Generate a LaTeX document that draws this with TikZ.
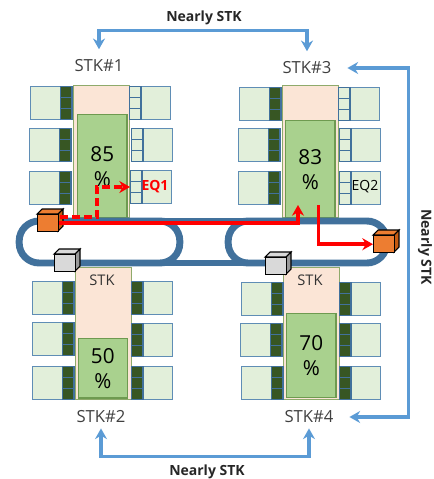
\documentclass[tikz,border=0pt]{standalone}
\usepackage{fontspec}
\setmainfont{Open Sans}
\usepackage{xcolor}
\usetikzlibrary{arrows.meta,positioning}
\definecolor{cellgreen}{HTML}{375623}
\definecolor{modfill}{HTML}{E2EFDA}
\definecolor{modline}{HTML}{5F8DB5}
\definecolor{stkpink}{HTML}{FBE5D6}
\definecolor{stkline}{HTML}{8FAA6B}
\definecolor{usedgreen}{HTML}{A9D18E}
\definecolor{usedline}{HTML}{6E9A50}
\definecolor{ringblue}{HTML}{41719C}
\definecolor{flowblue}{HTML}{5B9BD5}
\definecolor{cubeorange}{HTML}{ED7D31}
\definecolor{cubeside}{HTML}{C55A11}
% one memory module: name, left edge, top edge, cell offset, cell colour
\newcommand{\memmod}[5]{%
  \node[modbox] (#1) at (#2,#3) {};
  \foreach \k in {0,1,2}
    \node[modcell,fill=#5] (#1c\k) at (#2+#4,#3+\k*11) {};
}
% one cube: name, x, y of the front face, face colour, side colour
\newcommand{\boxcube}[5]{%
  \fill[draw=black,line width=.8pt,fill=#4] (#2,#3) -- ++(5,-5) -- ++(21,0) -- ++(-5,5) -- cycle;
  \fill[draw=black,line width=.8pt,fill=#5] (#2+21,#3) -- ++(5,-5) -- ++(0,17) -- ++(-5,5) -- cycle;
  \node[cubeface,fill=#4] (#1) at (#2,#3) {};
}
\begin{document}
\begin{tikzpicture}[x=.75pt,y=-.75pt,
  font=\fontsize{12.5}{15}\selectfont,
  modbox/.style={draw=modline,fill=modfill,line width=.9pt,anchor=north west,inner sep=0pt,minimum width=30.5pt,minimum height=24.5pt},
  modcell/.style={draw=ringblue,line width=1pt,anchor=north west,inner sep=0pt,minimum width=8.5pt,minimum height=8.25pt},
  stkbox/.style={draw=stkline,fill=stkpink,line width=.8pt,anchor=north west,inner sep=0pt,minimum width=42pt,minimum height=99pt},
  usedbox/.style={draw=usedline,fill=usedgreen,line width=.9pt,anchor=north west,inner sep=0pt,minimum width=37pt,align=center,
    font=\fontsize{15.5}{18.75}\selectfont},
  ringbox/.style={draw=ringblue,line width=5.2pt,rounded corners=15pt,minimum height=31.5pt,inner sep=0pt,outer sep=0pt},
  cubeface/.style={draw=black,line width=.8pt,anchor=north west,inner sep=0pt,minimum width=15.75pt,minimum height=13pt},
  stklbl/.style={text=black!75,inner sep=0pt,outer sep=4pt},
  flow/.style={draw=flowblue,line width=2.3pt,>={Stealth[length=8pt,width=9pt]}},
  redflow/.style={draw=red,line width=2.8pt,>={Stealth[length=8pt,width=9pt]}},
  nearly/.style={font=\fontsize{10.5}{12}\selectfont\bfseries,text=black!85,inner sep=0pt}]
  \useasboundingbox (0,0) rectangle (433,479);

  % stacks
  \node[stkbox] (stk1) at (73,85) {};
  \node[stkbox] (stk3) at (282,85) {};
  \node[stkbox] (stk2) at (75,267) {};
  \node[stkbox] (stk4) at (283,267) {};
  \node[usedbox,minimum height=77.5pt] (use1) at (77,114) {85\\\%};
  \node[usedbox,minimum height=73pt] (use3) at (285,120) {83\\\%};
  \node[usedbox,minimum height=44.5pt] (use2) at (77.5,338) {50\\\%};
  \node[usedbox,minimum height=63pt] (use4) at (286,313) {70\\\%};
  \node[font=\fontsize{11}{13}\selectfont,text=black!80,inner sep=0pt] (stk2t) at (102,280) {STK};
  \node[font=\fontsize{11}{13}\selectfont,text=black!80,inner sep=0pt] (stk4t) at (310,280) {STK};

  % modules, left side
  \foreach \n/\x/\y in {a/30/86,b/29/128,c/29/171,g/239/87,h/238/128,i/238/171,
                        m/32/281,n/32/322,o/32/366,s/241/282,t/240/323,u/241/366}
    {\memmod{mod\n}{\x}{\y}{30}{cellgreen}}
  % modules, right side
  \foreach \n/\x/\y in {d/129/86,e/131/128,f/130/170,j/338/87,k/339/128,l/339/171}
    {\memmod{mod\n}{\x}{\y}{0}{modfill}}
  \foreach \n/\x/\y in {p/131/281,q/131/323,r/131/366,v/339/282,w/339/323,x/339/366}
    {\memmod{mod\n}{\x}{\y}{0}{cellgreen}}

  % ring
  \node[ringbox,minimum width=120.5pt] (loopa) at (99.5,242) {};
  \node[ringbox,minimum width=119pt] (loopb) at (307.5,242) {};
  \draw[draw=ringblue,line width=5.2pt] (loopa.north) -- (loopb.north);
  \draw[draw=ringblue,line width=5.2pt] (loopa.south) -- (loopb.south);

  % labels
  \node[stklbl] (lbl1) at (99,66) {STK\#1};
  \node[stklbl] (lbl3) at (307,68) {STK\#3};
  \node[stklbl] (lbl2) at (101,417) {STK\#2};
  \node[stklbl] (lbl4) at (309,417) {STK\#4};
  \node[font=\fontsize{10.5}{12}\selectfont\bfseries,text=red,inner sep=0pt] (eq1) at (155,187) {EQ1};
  \node[font=\fontsize{10.5}{12}\selectfont,inner sep=0pt] (eq2) at (365,187) {EQ2};
  \node[nearly] (neara) at (204,18) {Nearly STK};
  \node[nearly] (nearb) at (207,472) {Nearly STK};
  \node[nearly,rotate=-90] (nearc) at (425,247) {Nearly STK};

  % cubes
  \boxcube{cubeg1}{54}{254}{black!15}{black!40}
  \boxcube{cubeg2}{265}{257}{black!15}{black!40}
  \boxcube{cubeo1}{37}{214}{cubeorange}{cubeside}
  \boxcube{cubeo2}{373}{235}{cubeorange}{cubeside}

  % red paths
  \coordinate (hit3) at (298,205);
  \coordinate (out3) at (318.5,205);
  \coordinate (dash1) at (60,217);
  \coordinate (bend1) at (97,187);
  \coordinate (hit1) at (130,187);
  \draw[redflow,->] (cubeo1.east) -| (hit3);
  \draw[redflow,->] (out3) |- (cubeo2.west);
  \draw[redflow,->,line width=2.4pt,dash pattern=on 6pt off 3pt] (dash1) -| (bend1) -- (hit1);

  % nearly STK paths
  \draw[flow,<->,shorten <=4pt,shorten >=4pt] (lbl1.north) -- ++(0,-24) -| (lbl3.north);
  \draw[flow,<->] (lbl2.south) -- ++(0,28) -| (lbl4.south);
  \draw[flow,<->,shorten <=8pt,shorten >=8pt] (lbl3.east) -- ++(72,0) |- (lbl4.east);
\end{tikzpicture}
\end{document}
